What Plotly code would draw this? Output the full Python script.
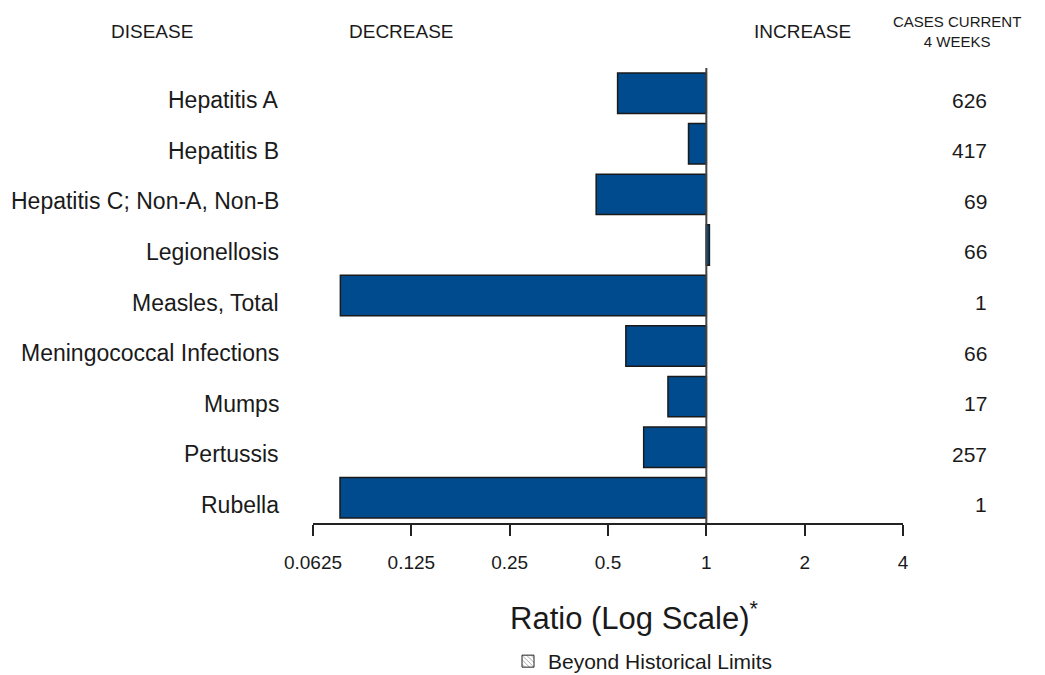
import math
import plotly.graph_objects as go

diseases = ["Hepatitis A", "Hepatitis B", "Hepatitis C; Non-A, Non-B", "Legionellosis",
            "Measles, Total", "Meningococcal Infections", "Mumps", "Pertussis", "Rubella"]
ratios = [0.535, 0.882, 0.46, 1.022, 0.0758, 0.567, 0.763, 0.643, 0.0756]
cases = [626, 417, 69, 66, 1, 66, 17, 257, 1]
tick_vals = [0.0625, 0.125, 0.25, 0.5, 1, 2, 4]
tick_text = ["0.0625", "0.125", "0.25", "0.5", "1", "2", "4"]

FONT = "Liberation Sans, Arial, sans-serif"
OFF = 8  # default page body margin
W, H = 1045 - OFF, 675 - OFF
L, R, T, B = 313 - OFF, 142, 68 - OFF, 152
PW, PH = W - L - R, H - T - B


def px(xs):
    return (xs - OFF - L) / PW


def py(ys):
    return (H - B - (ys - OFF)) / PH


bases = [min(r, 1.0) for r in ratios]
lengths = [abs(1.0 - r) for r in ratios]

fig = go.Figure()
fig.add_trace(go.Bar(
    y=diseases, x=lengths, base=bases, orientation="h",
    marker=dict(color="#004B8D", line=dict(color="#1a1a1a", width=1.5)),
    showlegend=False, hoverinfo="skip",
))
fig.add_trace(go.Bar(
    y=[diseases[0]], x=[0], base=[1], orientation="h",
    name="Beyond Historical Limits",
    marker=dict(color="white", line=dict(color="#222", width=1),
                pattern=dict(shape="\\", fgcolor="#222", bgcolor="white", size=4, solidity=0.25)),
    showlegend=True, hoverinfo="skip",
))

annotations = []
for d, c in zip(diseases, cases):
    annotations.append(dict(x=px(281), xref="paper", y=d, yref="y", yshift=-7,
                            text=d, showarrow=False, xanchor="right", yanchor="middle",
                            font=dict(family=FONT, size=23, color="#1a1a1a")))
    annotations.append(dict(x=px(989), xref="paper", y=d, yref="y", yshift=-7,
                            text=str(c), showarrow=False, xanchor="right", yanchor="middle",
                            font=dict(family=FONT, size=21, color="#1a1a1a")))

hdr = dict(family=FONT, size=19, color="#1a1a1a")
annotations += [
    dict(x=px(152), y=py(31), xref="paper", yref="paper", text="DISEASE", showarrow=False,
         xanchor="center", yanchor="middle", font=hdr),
    dict(x=px(401), y=py(31), xref="paper", yref="paper", text="DECREASE", showarrow=False,
         xanchor="center", yanchor="middle", font=hdr),
    dict(x=px(802), y=py(31), xref="paper", yref="paper", text="INCREASE", showarrow=False,
         xanchor="center", yanchor="middle", font=hdr),
    dict(x=px(957), y=py(31), xref="paper", yref="paper", text="CASES CURRENT<br>4 WEEKS",
         showarrow=False, xanchor="center", yanchor="middle",
         font=dict(family=FONT, size=15, color="#1a1a1a")),
    dict(x=px(634), y=py(616), xref="paper", yref="paper",
         text="Ratio (Log Scale)<sup>*</sup>", showarrow=False,
         xanchor="center", yanchor="middle",
         font=dict(family=FONT, size=31, color="#1a1a1a")),
]

fig.add_shape(type="line", x0=1, x1=1, xref="x", y0=0, y1=1, yref="paper",
              line=dict(color="#444", width=2))

fig.update_layout(
    width=W, height=H,
    margin=dict(l=L, r=R, t=T, b=B, autoexpand=False),
    paper_bgcolor="white", plot_bgcolor="white",
    barmode="overlay", bargap=0.2,
    annotations=annotations,
    showlegend=True,
    legend=dict(x=px(508), y=py(641), xanchor="left", yanchor="top",
                font=dict(family=FONT, size=21, color="#1a1a1a"),
                bgcolor="rgba(0,0,0,0)"),
    xaxis=dict(type="log", range=[math.log10(0.0625), math.log10(4)],
               tickvals=tick_vals, ticktext=tick_text,
               showline=True, linecolor="#222", linewidth=2,
               ticks="outside", ticklen=11, tickwidth=2, tickcolor="#222",
               ticklabelstandoff=10,
               tickfont=dict(family=FONT, size=19, color="#1a1a1a"),
               showgrid=False, zeroline=False),
    yaxis=dict(type="category", categoryorder="array", categoryarray=diseases,
               range=[8.5, -0.5], showticklabels=False, showgrid=False,
               zeroline=False, showline=False, ticks=""),
)

fig.write_html("out.html")
